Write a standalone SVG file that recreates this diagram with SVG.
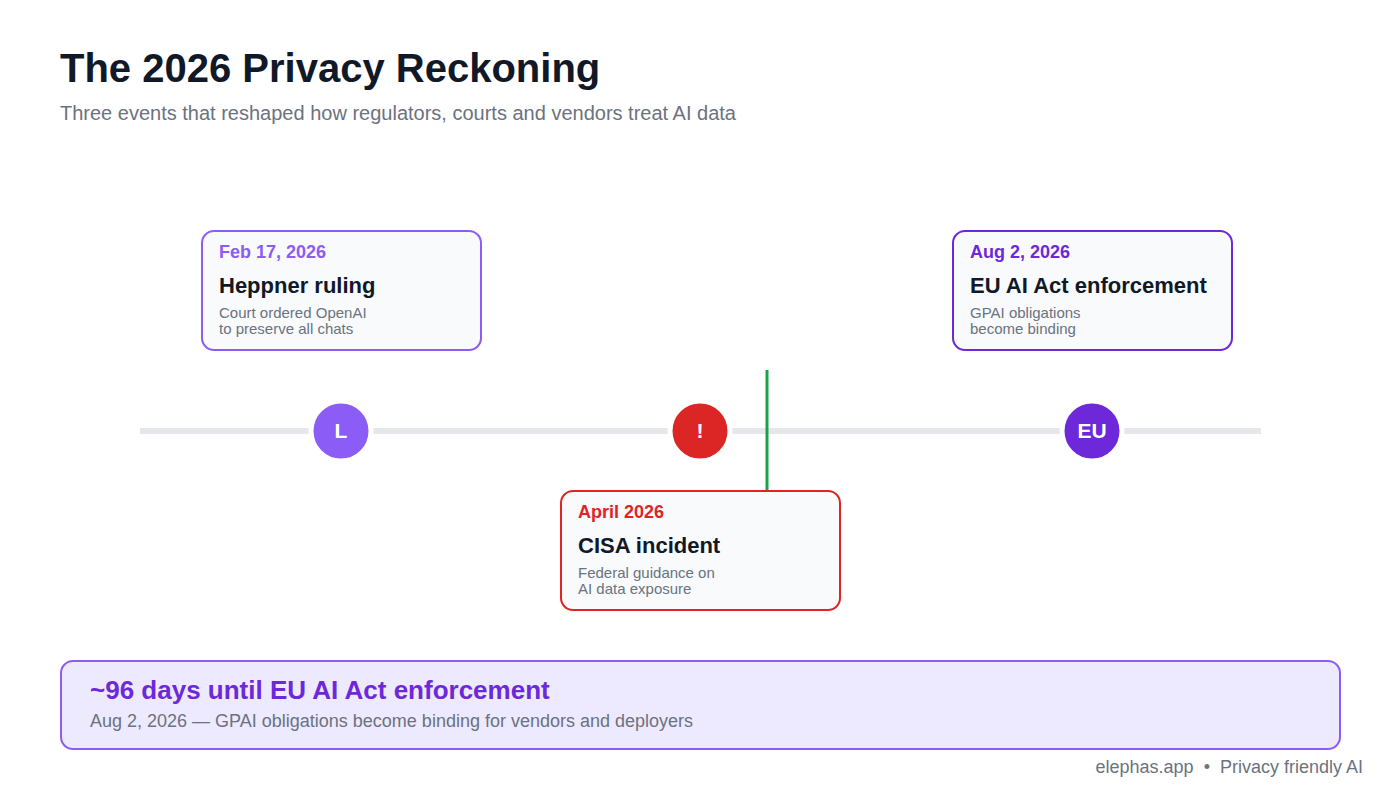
<svg xmlns="http://www.w3.org/2000/svg" width="1400" height="800" viewBox="0 0 1400 800">
<style>
text{font-family:"Liberation Sans",Arial,sans-serif}
.card{fill:#f8fafc;stroke-width:2}
.date{font-size:18px;font-weight:bold}
.ttl{font-size:22px;font-weight:bold;fill:#111827}
.desc{font-size:15px;fill:#6b7280}
.dot{stroke:#ffffff;stroke-width:5}
.dotlbl{font-size:21px;font-weight:bold;fill:#ffffff;text-anchor:middle}
</style>
<rect width="1400" height="800" fill="#ffffff"/>
<g id="header">
<text x="60" y="82" font-size="40" font-weight="bold" fill="#111827">The 2026 Privacy Reckoning</text>
<text x="60" y="120" font-size="20" fill="#6b7280">Three events that reshaped how regulators, courts and vendors treat AI data</text>
</g>
<g id="connectors">
<line x1="140" y1="431" x2="1261" y2="431" stroke="#e5e7eb" stroke-width="6"/>
<line x1="767" y1="370" x2="767" y2="491" stroke="#16a34a" stroke-width="3"/>
</g>
<g id="event-heppner">
<circle class="dot" cx="341" cy="431" r="30" fill="#8b5cf6"/>
<text class="dotlbl" x="341" y="438">L</text>
<rect class="card" x="202" y="231" width="279" height="119" rx="12" stroke="#8b5cf6"/>
<text class="date" x="219" y="258" fill="#8b5cf6">Feb 17, 2026</text>
<text class="ttl" x="219" y="293">Heppner ruling</text>
<text class="desc" x="219" y="318">Court ordered OpenAI</text>
<text class="desc" x="219" y="334">to preserve all chats</text>
</g>
<g id="event-cisa">
<circle class="dot" cx="700" cy="431" r="30" fill="#dc2626"/>
<text class="dotlbl" x="700" y="438">!</text>
<rect class="card" x="561" y="491" width="279" height="119" rx="12" stroke="#dc2626"/>
<text class="date" x="578" y="518" fill="#dc2626">April 2026</text>
<text class="ttl" x="578" y="553">CISA incident</text>
<text class="desc" x="578" y="578">Federal guidance on</text>
<text class="desc" x="578" y="594">AI data exposure</text>
</g>
<g id="event-euaiact">
<circle class="dot" cx="1092" cy="431" r="30" fill="#6d28d9"/>
<text class="dotlbl" x="1092" y="438">EU</text>
<rect class="card" x="953" y="231" width="279" height="119" rx="12" stroke="#6d28d9"/>
<text class="date" x="970" y="258" fill="#6d28d9">Aug 2, 2026</text>
<text class="ttl" x="970" y="293">EU AI Act enforcement</text>
<text class="desc" x="970" y="318">GPAI obligations</text>
<text class="desc" x="970" y="334">become binding</text>
</g>
<g id="countdown">
<rect x="61" y="661" width="1279" height="88" rx="12" fill="#ede9fe" stroke="#8b5cf6" stroke-width="2"/>
<text x="90" y="699" font-size="26" font-weight="bold" fill="#6d28d9">~96 days until EU AI Act enforcement</text>
<text x="90" y="727" font-size="18" fill="#6b7280">Aug 2, 2026 — GPAI obligations become binding for vendors and deployers</text>
</g>
<g id="footer">
<text x="1363" y="773" font-size="18" fill="#6b7280" text-anchor="end" xml:space="preserve">elephas.app  •  Privacy friendly AI</text>
</g>
</svg>
